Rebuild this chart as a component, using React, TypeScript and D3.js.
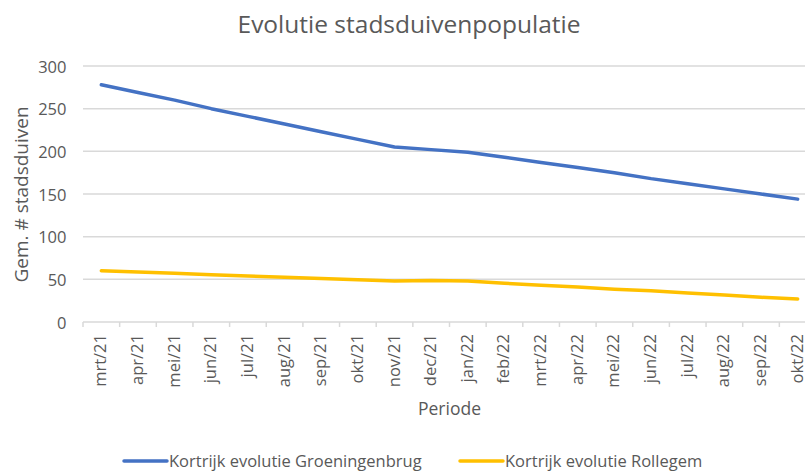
import React from 'react';
import * as d3 from 'd3';

const months = [
  'mrt/21', 'apr/21', 'mei/21', 'jun/21', 'jul/21', 'aug/21', 'sep/21', 'okt/21', 'nov/21', 'dec/21',
  'jan/22', 'feb/22', 'mrt/22', 'apr/22', 'mei/22', 'jun/22', 'jul/22', 'aug/22', 'sep/22', 'okt/22',
];
const groeningenbrug = [278, 269, 260, 250, 241, 232, 223, 214, 205, 202, 199, 193, 187, 181, 175, 168, 162, 156, 150, 144];
const rollegem = [60, 58.5, 57, 55.5, 54, 52.5, 51, 49.5, 48, 48.5, 48, 45.5, 43, 41, 38.5, 36.5, 34, 31.5, 29, 27];
const yTicks = [0, 50, 100, 150, 200, 250, 300];

const series = [
  { name: 'Kortrijk evolutie Groeningenbrug', color: '#4472C4', values: groeningenbrug },
  { name: 'Kortrijk evolutie Rollegem', color: '#FFC000', values: rollegem },
];

const W = 805;
const H = 473;
const font = "'Open Sans', sans-serif";
const textColor = '#595959';

export default function App() {
  // plot runs past the right edge of the picture, like the original
  const left = 83;
  const right = 816;
  const top = 66;
  const bottom = 322;

  const x = d3.scaleBand<string>().domain(months).range([left, right]);
  const y = d3.scaleLinear().domain([0, 300]).range([bottom, top]);

  const line = d3
    .line<number>()
    .x((_, i) => (x(months[i]) as number) + x.bandwidth() / 2)
    .y((d) => y(d));

  return (
    <svg
      width={W}
      height={H}
      style={{ display: 'block', position: 'absolute', left: 0, top: 0 }}
      fontFamily={font}
    >
      <rect width={W} height={H} fill="#fff" />
      <text x={409} y={33} textAnchor="middle" fontSize={24.5} fill={textColor}>
        Evolutie stadsduivenpopulatie
      </text>

      {/* grid + y labels */}
      {yTicks.map((t) => (
        <g key={t}>
          {t > 0 && <line x1={left} x2={right} y1={y(t)} y2={y(t)} stroke="#d9d9d9" strokeWidth={1.5} />}
          <text x={66.5} y={y(t) + 6.5} textAnchor="end" fontSize={16.5} fill={textColor}>
            {t}
          </text>
        </g>
      ))}
      <text
        transform={`translate(28, ${194.5}) rotate(-90)`}
        textAnchor="middle"
        fontSize={19}
        fill={textColor}
      >
        Gem. # stadsduiven
      </text>

      {/* x axis */}
      <line x1={left} x2={right} y1={bottom} y2={bottom} stroke="#d9d9d9" strokeWidth={1.5} />
      {months.concat(['']).map((m, i) => {
        const xx = left + i * x.bandwidth();
        return <line key={'t' + i} x1={xx} x2={xx} y1={bottom} y2={bottom + 5} stroke="#d9d9d9" strokeWidth={1.5} />;
      })}
      {months.map((m) => {
        const cx = (x(m) as number) + x.bandwidth() / 2;
        return (
          <text
            key={m}
            transform={`translate(${cx + 5}, 334) rotate(-90)`}
            textAnchor="end"
            fontSize={16.5}
            fill={textColor}
          >
            {m}
          </text>
        );
      })}
      <text x={(left + right) / 2} y={415} textAnchor="middle" fontSize={17.5} fill={textColor}>
        Periode
      </text>

      {/* lines */}
      {series.map((s) => (
        <path
          key={s.name}
          d={line(s.values) || ''}
          fill="none"
          stroke={s.color}
          strokeWidth={3.5}
          strokeLinejoin="round"
          strokeLinecap="round"
        />
      ))}

      {/* legend */}
      {series.map((s, i) => {
        const lx = i === 0 ? 124 : 460;
        return (
          <g key={'l' + i}>
            <line x1={lx} x2={lx + 43} y1={461} y2={461} stroke={s.color} strokeWidth={3.5} strokeLinecap="round" />
            <text x={lx + 45} y={467} fontSize={16.5} fill={textColor}>
              {s.name}
            </text>
          </g>
        );
      })}
    </svg>
  );
}
